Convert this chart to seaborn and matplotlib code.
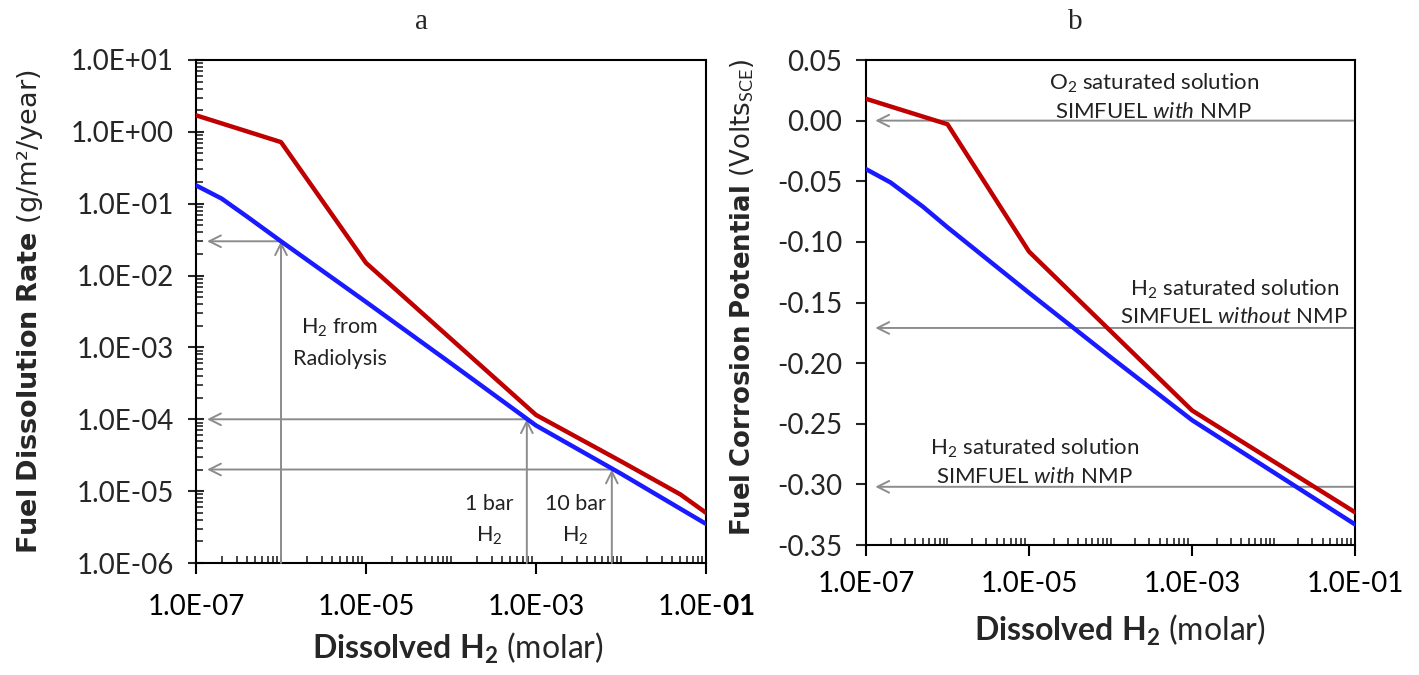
import matplotlib
matplotlib.use("Agg")
import matplotlib.pyplot as plt
import matplotlib.ticker as mticker
import numpy as np
import seaborn as sns

# panel a: fuel dissolution rate (g/m2/year) vs dissolved H2 (molar)
h2_a_red = [1e-7, 1e-6, 1e-5, 1e-3, 1e-2, 5e-2, 1e-1]
rate_red = [1.7, 0.72, 0.015, 1.15e-4, 2.6e-5, 9.0e-6, 5.0e-6]
h2_a_blue = [1e-7, 2e-7, 4e-7, 1e-6, 1e-5, 1e-4, 1e-3, 1e-2, 1e-1]
rate_blue = [0.18, 0.118, 0.066, 0.030, 4.3e-3, 6.0e-4, 8.2e-5, 1.75e-5, 3.5e-6]

# panel b: fuel corrosion potential (V SCE) vs dissolved H2 (molar)
h2_b_red = [1e-7, 1e-6, 1e-5, 1e-3, 1e-1]
pot_red = [0.018, -0.003, -0.108, -0.239, -0.323]
h2_b_blue = [1e-7, 2e-7, 5e-7, 1e-6, 1e-5, 1e-4, 1e-3, 1e-1]
pot_blue = [-0.040, -0.051, -0.071, -0.088, -0.142, -0.195, -0.247, -0.333]

# reference arrows in panel a: (H2 level, rate)
ref_h2 = [1e-6, 7.8e-4, 7.8e-3]
ref_rate = [0.03, 1e-4, 2e-5]
ref_text = ["H$_2$ from\nRadiolysis", "1 bar\nH$_2$", "10 bar\nH$_2$"]
ref_text_x = [4.9e-6, 2.8e-4, 2.9e-3]
ref_text_y = [1.15e-3, 3.9e-6, 3.9e-6]

# measured potentials in panel b
pot_levels = [0.0, -0.171, -0.302]
pot_text = ["O$_2$ saturated solution\nSIMFUEL $\\mathit{with}$ NMP",
            "H$_2$ saturated solution\nSIMFUEL $\\mathit{without}$ NMP",
            "H$_2$ saturated solution\nSIMFUEL $\\mathit{with}$ NMP"]
pot_text_x = [3.4e-4, 3.3e-3, 1.18e-5]
pot_text_y = [0.0195, -0.150, -0.2815]

RED = "#c00000"
BLUE = "#1a1aff"
GREY = "#8c8c8c"

sns.set_theme(style="ticks")
plt.rcParams["font.family"] = ["Lato", "DejaVu Sans"]
plt.rcParams["mathtext.fontset"] = "custom"
plt.rcParams["mathtext.rm"] = "Lato"
plt.rcParams["mathtext.it"] = "Lato:italic"
plt.rcParams["mathtext.bf"] = "Lato:bold"
plt.rcParams["mathtext.sf"] = "DejaVu Sans:bold"
plt.rcParams["axes.unicode_minus"] = False
plt.rcParams["axes.edgecolor"] = "black"
plt.rcParams["axes.linewidth"] = 1.5


def arrow(ax, tail, tip):
    ax.annotate("", xy=tip, xytext=tail, zorder=3,
                arrowprops=dict(arrowstyle="->,head_length=0.7,head_width=0.35",
                                color=GREY, lw=1.4, shrinkA=0, shrinkB=0))


def sci(v, p):
    return f"{v:.1E}"


def log_x(ax, pad, fmt):
    ax.set_xscale("log")
    ax.set_xlim(1e-7, 1e-1)
    ax.set_xticks([1e-7, 1e-5, 1e-3, 1e-1])
    ax.xaxis.set_minor_locator(mticker.LogLocator(base=10, subs=np.arange(1, 10), numticks=100))
    ax.xaxis.set_major_formatter(mticker.FuncFormatter(fmt))
    ax.xaxis.set_minor_formatter(mticker.NullFormatter())
    ax.tick_params(axis="x", which="major", direction="out", length=8, width=1.5,
                   labelsize=20, pad=pad, colors="black")
    ax.tick_params(axis="x", which="minor", direction="in", length=5, width=1.2)
    ax.set_xlabel(r"$\mathbf{Dissolved\ H_2}$ (molar)", fontsize=23)


fig = plt.figure(figsize=(14.19, 6.75), dpi=100)
ax_a = fig.add_axes([196 / 1419, 1 - 563 / 675, 510 / 1419, 503 / 675])
ax_b = fig.add_axes([866 / 1419, 1 - 545 / 675, 489 / 1419, 485 / 675])

# ---- panel a
ax_a.set_yscale("log")
# the last x label in the original has a bold exponent
log_x(ax_a, 14, lambda v, p: "1.0E-$\\mathbf{01}$" if v > 0.05 else sci(v, p))
sns.lineplot(x=h2_a_red, y=rate_red, color=RED, lw=3.2, ax=ax_a, zorder=4)
sns.lineplot(x=h2_a_blue, y=rate_blue, color=BLUE, lw=3.2, ax=ax_a, zorder=4)
ax_a.set_ylim(1e-6, 10)
ax_a.yaxis.set_major_locator(mticker.LogLocator(base=10, numticks=20))
ax_a.yaxis.set_minor_locator(mticker.LogLocator(base=10, subs=np.arange(2, 10), numticks=100))
ax_a.yaxis.set_major_formatter(mticker.FuncFormatter(sci))
ax_a.yaxis.set_minor_formatter(mticker.NullFormatter())
ax_a.tick_params(axis="y", which="major", direction="inout", length=12, width=1.5,
                 labelsize=20, pad=10)
ax_a.tick_params(axis="y", which="minor", direction="in", length=5, width=1.2)
ax_a.set_ylabel(r"$\mathsf{Fuel\ Dissolution\ Rate}$ (g/m²/year)",
                fontsize=19.5, family="DejaVu Sans")
ax_a.yaxis.set_label_coords(-0.296, 0.5)
ax_a.xaxis.set_label_coords(0.514, -0.135)

for hx, ry in zip(ref_h2, ref_rate):
    arrow(ax_a, (hx, 1e-6), (hx, ry))
    arrow(ax_a, (hx, ry), (1.35e-7, ry))
for t, tx, ty in zip(ref_text, ref_text_x, ref_text_y):
    ax_a.text(tx, ty, t, ha="center", va="center", fontsize=15.5,
              linespacing=1.6, color="#222222")

# ---- panel b
log_x(ax_b, 11, sci)
sns.lineplot(x=h2_b_red, y=pot_red, color=RED, lw=3.2, ax=ax_b, zorder=4)
sns.lineplot(x=h2_b_blue, y=pot_blue, color=BLUE, lw=3.2, ax=ax_b, zorder=4)
ax_b.set_ylim(-0.35, 0.05)
ax_b.set_yticks(np.arange(-0.35, 0.051, 0.05))
ax_b.yaxis.set_major_formatter(mticker.FuncFormatter(
    lambda v, p: f"{0.0 if abs(v) < 1e-9 else v:.2f}"))
ax_b.tick_params(axis="y", which="major", direction="out", length=7, width=1.5,
                 labelsize=20, pad=10)
ax_b.set_ylabel(r"$\mathsf{Fuel\ Corrosion\ Potential}$ (Volts$_{\rm SCE}$)",
                fontsize=18.7, family="DejaVu Sans")
ax_b.yaxis.set_label_coords(-0.225, 0.51)
ax_b.xaxis.set_label_coords(0.52, -0.14)

for lvl in pot_levels:
    arrow(ax_b, (0.095, lvl), (1.3e-7, lvl))
for t, tx, ty in zip(pot_text, pot_text_x, pot_text_y):
    ax_b.text(tx, ty, t, ha="center", va="center", fontsize=16,
              linespacing=1.4, color="#222222")

for ax in (ax_a, ax_b):
    for s in ax.spines.values():
        s.set_visible(True)
        s.set_color("black")
        s.set_linewidth(1.5)

fig.text(421 / 1419, 1 - 22 / 675, "a", ha="center", va="center",
         family="Liberation Serif", fontsize=21)
fig.text(1075 / 1419, 1 - 22 / 675, "b", ha="center", va="center",
         family="Liberation Serif", fontsize=21)

fig.savefig("out.png", dpi=100, facecolor="white")
